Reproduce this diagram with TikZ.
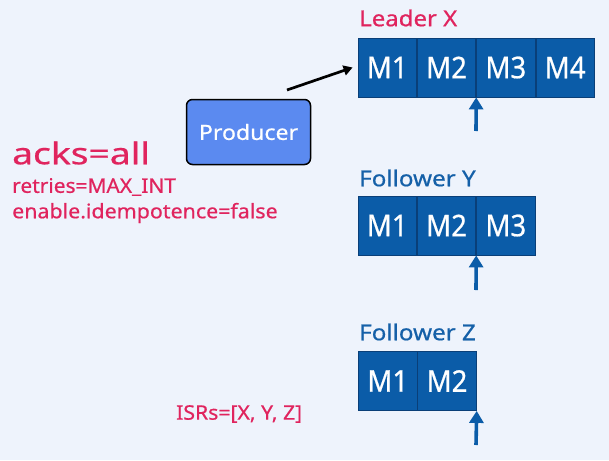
\documentclass[tikz,border=0pt]{standalone}
\usepackage{graphicx}
\usepackage{fontspec}
\setmainfont{Noto Sans}[FakeBold=0.6]
\usetikzlibrary{arrows.meta}
\definecolor{bgc}{HTML}{EEF3FC}
\definecolor{cellc}{HTML}{0B5CA8}
\definecolor{celld}{HTML}{0A3F78}
\definecolor{redc}{HTML}{E0245E}
\definecolor{labc}{HTML}{1560A8}
\definecolor{prodc}{HTML}{5B8AF0}
\newcommand{\stx}[2]{\scalebox{#1}[1]{#2}}
\tikzset{
  cell/.style={draw=celld, line width=0.8pt, fill=cellc, text=white, minimum width=58.5pt, minimum height=59pt, inner sep=0pt, font=\fontsize{30}{32}\selectfont},
  lab/.style={text=labc, anchor=west, inner sep=0pt, font=\fontsize{22}{24}\selectfont},
  redtxt/.style={text=redc, anchor=west, inner sep=0pt},
  ptr/.style={draw=cellc, line width=3.6pt, -{Triangle[width=14pt,length=12pt]}},
}
\newcommand{\mm}[1]{\stx{0.92}{#1}}
\begin{document}
\begin{tikzpicture}[x=1pt,y=-1pt]
\fill[bgc] (0,0) rectangle (609,460);
\useasboundingbox (0,0) rectangle (609,460);
% Leader X
\node[lab, text=redc] (lxl) at (359,18) {\stx{1.09}{Leader X}};
\node[cell] (lx1) at (387.25,67.5) {\mm{M1}};
\node[cell, anchor=west] (lx2) at (lx1.east) {\mm{M2}};
\node[cell, anchor=west] (lx3) at (lx2.east) {\mm{M3}};
\node[cell, anchor=west] (lx4) at (lx3.east) {\mm{M4}};
\coordinate (la) at (476,131);
\draw[ptr] (la) -- (lx2.south east);
% Follower Y
\node[lab] (fyl) at (359,178) {\stx{1.1}{Follower Y}};
\node[cell] (fy1) at (387.25,225.5) {\mm{M1}};
\node[cell, anchor=west] (fy2) at (fy1.east) {\mm{M2}};
\node[cell, anchor=west] (fy3) at (fy2.east) {\mm{M3}};
\coordinate (ya) at (476,290);
\draw[ptr] (ya) -- (fy2.south east);
% Follower Z
\node[lab] (fzl) at (359,332) {\stx{1.1}{Follower Z}};
\node[cell] (fz1) at (387.75,381) {\mm{M1}};
\node[cell, anchor=west] (fz2) at (fz1.east) {\mm{M2}};
\coordinate (za) at (476,445);
\draw[ptr] (za) -- (fz2.south east);
% Producer
\node[draw=black, line width=1.5pt, fill=prodc, rounded corners=6pt, minimum width=124pt, minimum height=65pt, text=white, font=\fontsize{21}{24}\selectfont] (prod) at (248.5,132) {\stx{1.1}{Producer}};
\coordinate (ps) at (287,90);
\draw[line width=2.7pt, -{Triangle[width=10pt,length=9pt]}] (ps) -- ([xshift=-5pt]lx1.west);
% texts
\node[redtxt, font=\fontsize{30}{34}\selectfont] (acks) at (12,153) {\stx{1.24}{acks=all}};
\node[redtxt, font=\fontsize{20}{24}\selectfont] (retr) at (12,187) {\stx{1.045}{retries=MAX\_INT}};
\node[redtxt, font=\fontsize{20}{24}\selectfont] (idem) at (12,213) {\stx{1.07}{enable.idempotence=false}};
\node[redtxt, font=\fontsize{20}{24}\selectfont] (isr) at (176,414) {\stx{1.06}{ISRs=[X, Y, Z]}};
\end{tikzpicture}
\end{document}
